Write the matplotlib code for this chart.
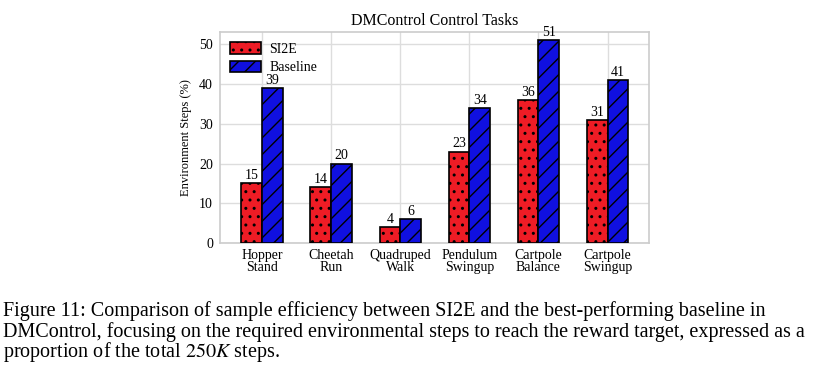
import matplotlib
matplotlib.use("Agg")
import matplotlib.pyplot as plt
import numpy as np

categories = ["Hopper\nStand", "Cheetah\nRun", "Quadruped\nWalk", "Pendulum\nSwingup", "Cartpole\nBalance", "Cartpole\nSwingup"]
si2e = [15, 14, 4, 23, 36, 31]
baseline = [39, 20, 6, 34, 51, 41]
yticks = [0, 10, 20, 30, 40, 50]
title = "DMControl Control Tasks"
ylabel = "Environment Steps (%)"
caption_lines = [
    "Figure 11: Comparison of sample efficiency between SI2E and the best-performing baseline in",
    "DMControl, focusing on the required environmental steps to reach the reward target, expressed as a",
    "proportion of the total $250K$ steps.",
]

plt.rcParams['font.family'] = ['Liberation Serif', 'DejaVu Serif']
plt.rcParams['mathtext.fontset'] = 'stix'
plt.rcParams['hatch.linewidth'] = 1.0

fig = plt.figure(figsize=(8.36, 3.74), dpi=100)
ax = fig.add_axes([220/836, 1-243/374, (649-220)/836, (243-32)/374])

x = np.arange(len(categories))
w = 0.3
b1 = ax.bar(x - w/2, si2e, w, color='#ee1c25', edgecolor='black', hatch='..', linewidth=1.2, label='SI2E', zorder=3)
b2 = ax.bar(x + w/2, baseline, w, color='#1010e0', edgecolor='black', hatch='//', linewidth=1.2, label='Baseline', zorder=3)
for bars in (b1, b2):
    for r in bars:
        ax.text(r.get_x() + r.get_width()/2, r.get_height() + 0.3, f"{int(r.get_height())}",
                ha='center', va='bottom', fontsize=10)

ax.set_xlim(-0.61, 5.6)
ax.set_ylim(0, 53.1)
ax.set_xticks(x)
ax.set_xticklabels(categories, fontsize=10, linespacing=0.95)
ax.set_yticks(yticks)
ax.tick_params(axis='both', length=0, labelsize=10, pad=5)
ax.tick_params(axis='x', pad=4)
ax.grid(True, color='#dddddd', linewidth=1.0, zorder=0)
for s in ax.spines.values():
    s.set_color('#cccccc')
    s.set_linewidth(1.2)
ax.set_ylabel(ylabel, fontsize=9, labelpad=5)
ax.set_title(title, fontsize=11.5, pad=5)
ax.legend(loc='upper left', fontsize=10, frameon=False, handlelength=2.2, handleheight=0.9,
          handletextpad=0.6, borderaxespad=0.35, labelspacing=0.35, borderpad=0.4)

for yb, line in zip([316, 337, 357], caption_lines):
    fig.text(0.003, 1-yb/374, line, ha='left', va='baseline', fontsize=14.5)

fig.savefig("out.png", dpi=100)
